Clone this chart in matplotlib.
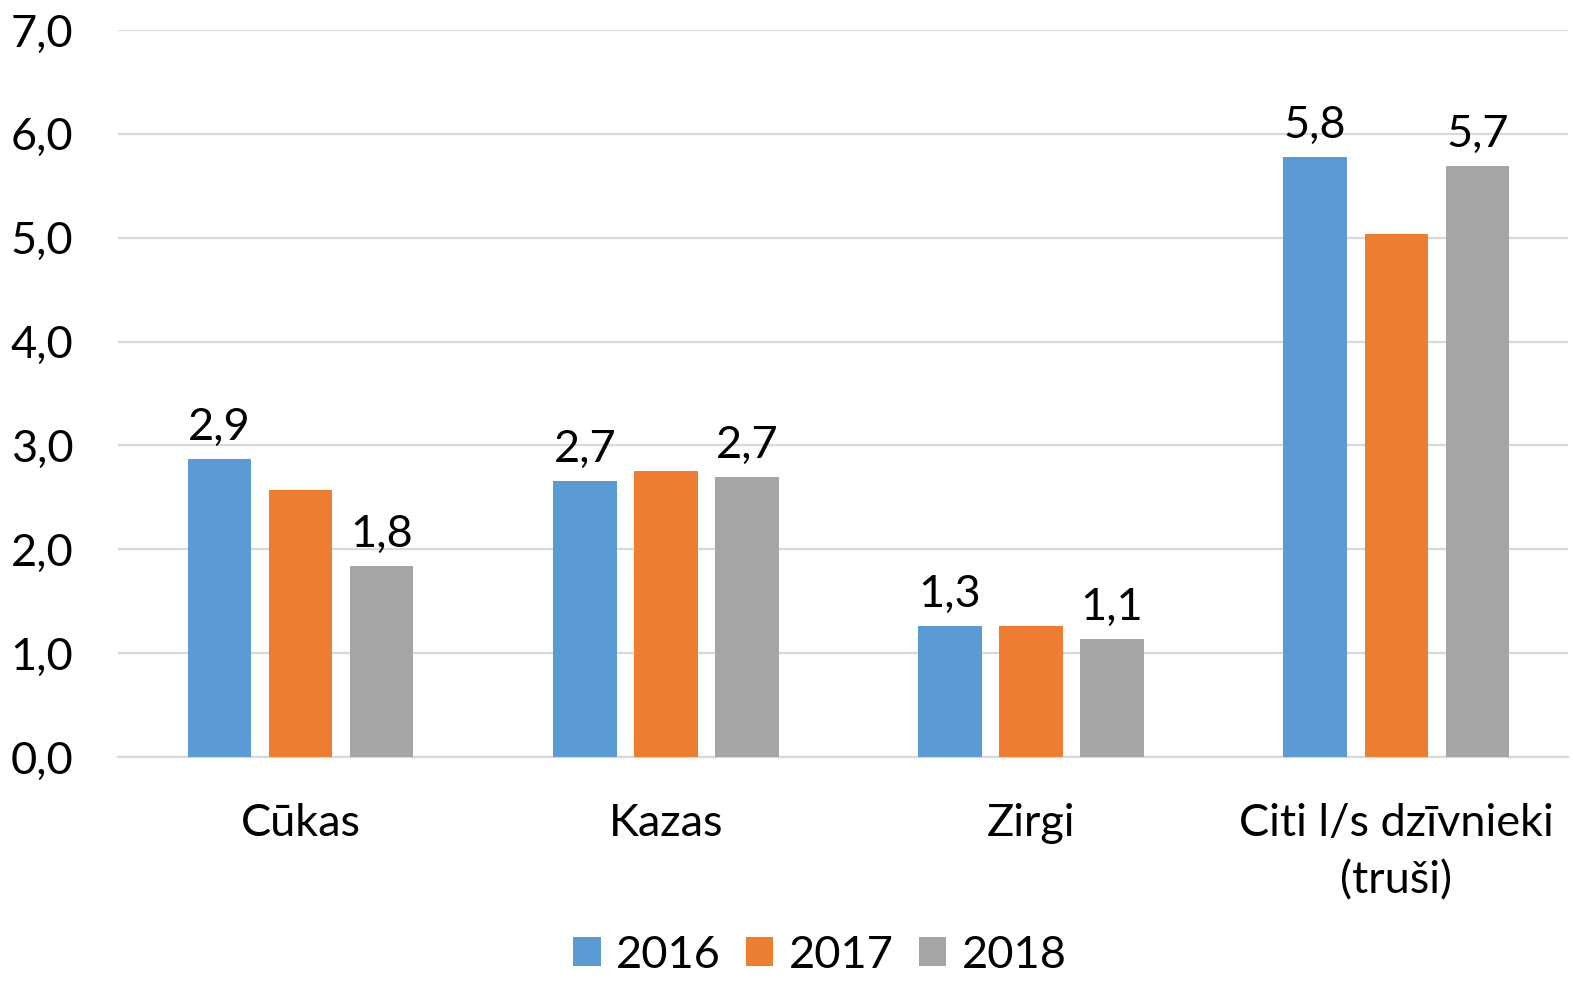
import matplotlib
matplotlib.use("Agg")
import matplotlib.pyplot as plt
import numpy as np

plt.rcParams['font.family'] = ['Lato', 'DejaVu Sans']

categories = ["Cūkas", "Kazas", "Zirgi", "Citi l/s dzīvnieki\n(truši)"]
years = ["2016", "2017", "2018"]
v2016 = [2.87, 2.66, 1.26, 5.78]
v2017 = [2.57, 2.75, 1.26, 5.04]
v2018 = [1.84, 2.70, 1.14, 5.69]
labeled = [True, False, True]
colors = ["#5B9BD5", "#ED7D31", "#A5A5A5"]

fs = 32.5
fig = plt.figure(figsize=(15.73, 9.81), dpi=100)
ax = fig.add_axes([118/1573, 1-757/981, 1450/1573, (757-30)/981])

x = np.arange(len(categories))
width = 0.174
step = 0.222
series = [v2016, v2017, v2018]
handles = []
for i, (vals, c, yr) in enumerate(zip(series, colors, years)):
    bars = ax.bar(x + (i-1)*step, vals, width, color=c, label=yr, zorder=3)
    handles.append(bars)
    if labeled[i]:
        for xi, v in zip(x + (i-1)*step, vals):
            ax.annotate(f"{v:.1f}".replace('.', ','), (xi, v), xytext=(0, 8),
                        textcoords='offset points', ha='center', va='bottom',
                        fontsize=fs, color='black')

ax.set_ylim(0, 7)
ax.set_xlim(-0.5, 3.47)
ax.set_yticks(np.arange(0, 8, 1))
ax.set_yticklabels([f"{t:.1f}".replace('.', ',') for t in np.arange(0, 8, 1)], fontsize=fs)
ax.set_xticks(x)
ax.set_xticklabels(categories, fontsize=fs, linespacing=1.5)
ax.tick_params(axis='y', length=0, pad=32)
ax.tick_params(axis='x', length=0, pad=33)
ax.yaxis.grid(True, color='#D9D9D9', linewidth=1.6, zorder=0)
ax.set_axisbelow(True)
for s in ['top', 'right', 'left']:
    ax.spines[s].set_visible(False)
ax.spines['bottom'].set_color('#D9D9D9')
ax.spines['bottom'].set_linewidth(1.6)

fig.legend(handles=handles, labels=years, loc='center', bbox_to_anchor=(820/1573, 1-955/981),
           ncol=3, frameon=False, fontsize=fs, handlelength=0.6, handleheight=0.6,
           handletextpad=0.35, columnspacing=0.55, borderpad=0.1)

fig.savefig("out.png", dpi=100)
